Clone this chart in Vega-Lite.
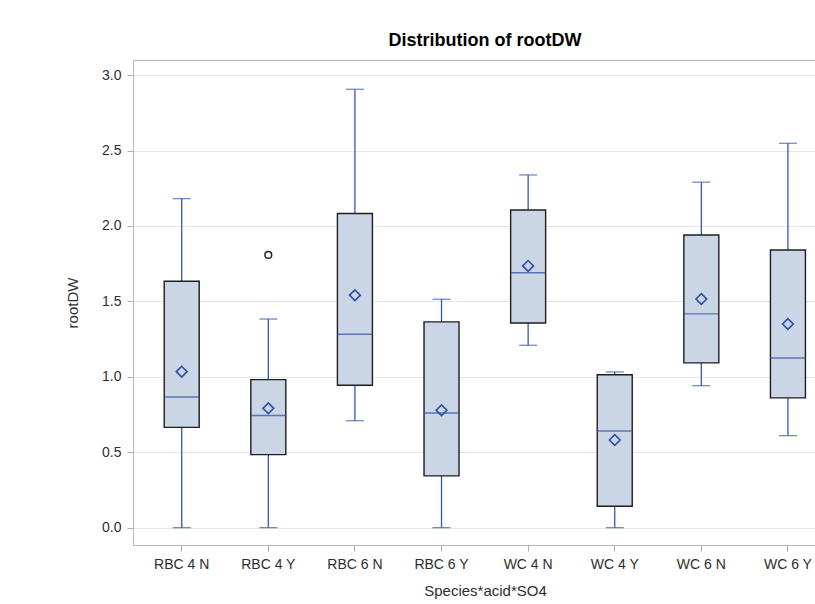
{
  "$schema": "https://vega.github.io/schema/vega-lite/v6.json",
  "autosize": "none",
  "padding": {"left": 133, "top": 60, "right": 0, "bottom": 59},
  "width": 682,
  "height": 485,
  "background": "white",
  "title": {"text": "Distribution of rootDW", "fontSize": 18, "font": "Liberation Sans", "fontWeight": "bold", "color": "#000000", "offset": 10, "dx": 11},
  "config": {
    "view": {"stroke": "#B3B8BC", "strokeWidth": 1},
    "font": "Liberation Sans",
    "axis": {"labelFont": "Liberation Sans", "titleFont": "Liberation Sans", "labelColor": "#2E2E2E", "titleColor": "#2E2E2E", "titleFontWeight": "normal", "tickColor": "#A8AEB2", "domain": false, "labelFontSize": 14, "titleFontSize": 15}
  },
  "datasets": {
    "stats": [
      {"grp": "RBC 4 N", "lo": 0.0, "q1": 0.665, "med": 0.866, "q3": 1.633, "hi": 2.181, "mean": 1.034},
      {"grp": "RBC 4 Y", "lo": 0.0, "q1": 0.484, "med": 0.743, "q3": 0.981, "hi": 1.383, "mean": 0.791},
      {"grp": "RBC 6 N", "lo": 0.709, "q1": 0.944, "med": 1.282, "q3": 2.082, "hi": 2.906, "mean": 1.541},
      {"grp": "RBC 6 Y", "lo": 0.0, "q1": 0.343, "med": 0.76, "q3": 1.364, "hi": 1.514, "mean": 0.778},
      {"grp": "WC 4 N", "lo": 1.209, "q1": 1.357, "med": 1.69, "q3": 2.106, "hi": 2.338, "mean": 1.735},
      {"grp": "WC 4 Y", "lo": 0.0, "q1": 0.142, "med": 0.641, "q3": 1.014, "hi": 1.032, "mean": 0.581},
      {"grp": "WC 6 N", "lo": 0.941, "q1": 1.092, "med": 1.417, "q3": 1.94, "hi": 2.29, "mean": 1.516},
      {"grp": "WC 6 Y", "lo": 0.61, "q1": 0.86, "med": 1.125, "q3": 1.841, "hi": 2.548, "mean": 1.35}
    ],
    "outliers": [
      {"grp": "RBC 4 Y", "value": 1.808}
    ]
  },
  "data": {"name": "stats"},
  "encoding": {
    "x": {
      "field": "grp", "type": "nominal", "sort": null,
      "scale": {"paddingInner": 0.375, "paddingOuter": 0.125, "align": 1},
      "axis": {"title": "Species*acid*SO4", "labelAngle": 0, "tickSize": 6, "labelPadding": 6, "titlePadding": 12, "titleX": 352, "grid": false}
    }
  },
  "layer": [
    {
      "mark": {"type": "rule", "color": "#3359AE", "strokeWidth": 1.3},
      "encoding": {
        "y": {"field": "lo", "type": "quantitative",
          "scale": {"domain": [-0.115, 3.1], "nice": false, "zero": false},
          "axis": {"title": "rootDW", "values": [0, 0.5, 1, 1.5, 2, 2.5, 3], "format": ".1f", "grid": true, "gridColor": "#E6E6E6", "gridWidth": 1, "tickSize": 6, "labelPadding": 6, "titlePadding": 21}},
        "y2": {"field": "q1"}
      }
    },
    {
      "mark": {"type": "rule", "color": "#3359AE", "strokeWidth": 1.3},
      "encoding": {"y": {"field": "q3", "type": "quantitative"}, "y2": {"field": "hi"}}
    },
    {
      "mark": {"type": "tick", "color": "#3359AE", "size": 18, "thickness": 1.3, "orient": "horizontal"},
      "encoding": {"y": {"field": "lo", "type": "quantitative"}}
    },
    {
      "mark": {"type": "tick", "color": "#3359AE", "size": 18, "thickness": 1.3, "orient": "horizontal"},
      "encoding": {"y": {"field": "hi", "type": "quantitative"}}
    },
    {
      "mark": {"type": "bar", "size": 35, "fill": "#CAD5E5", "stroke": "#1E1E1E", "strokeWidth": 1.4},
      "encoding": {"y": {"field": "q1", "type": "quantitative"}, "y2": {"field": "q3"}}
    },
    {
      "mark": {"type": "tick", "color": "#2A4FA3", "size": 35, "thickness": 1.4, "orient": "horizontal"},
      "encoding": {"y": {"field": "med", "type": "quantitative"}}
    },
    {
      "mark": {"type": "point", "shape": "diamond", "size": 115, "filled": false, "stroke": "#2A4FA3", "strokeWidth": 1.6, "opacity": 1},
      "encoding": {"y": {"field": "mean", "type": "quantitative"}}
    },
    {
      "data": {"name": "outliers"},
      "mark": {"type": "point", "shape": "circle", "size": 45, "filled": false, "stroke": "#222222", "strokeWidth": 1.5, "opacity": 1},
      "encoding": {"y": {"field": "value", "type": "quantitative"}}
    }
  ]
}
